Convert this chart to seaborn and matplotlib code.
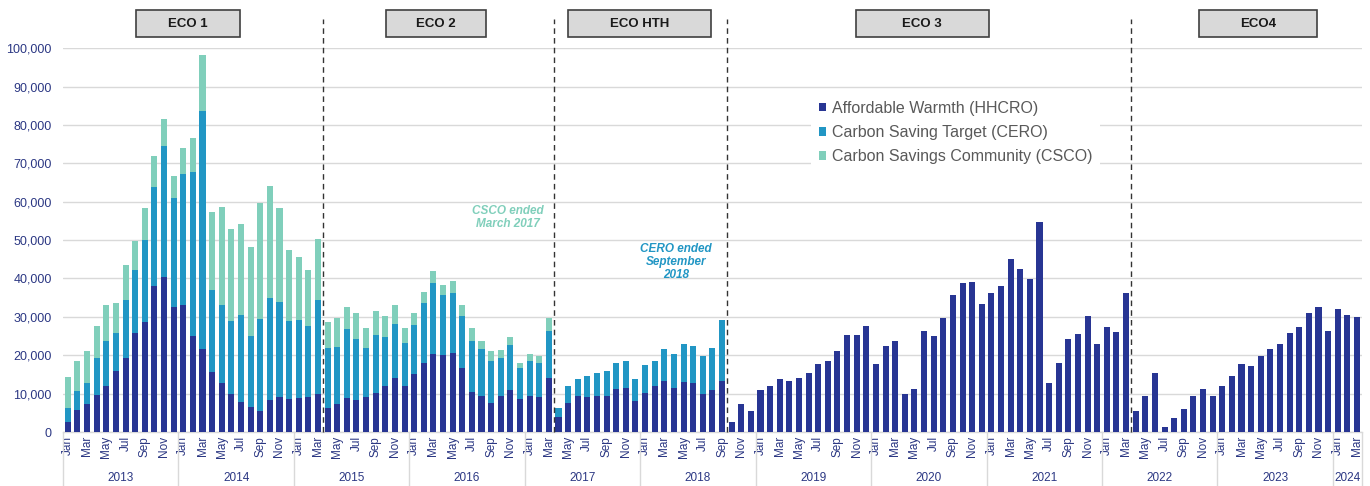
import numpy as np
import pandas as pd
import matplotlib
matplotlib.use("Agg")
import matplotlib.pyplot as plt
from matplotlib.patches import Patch, Rectangle
import seaborn as sns

# ---------------- data (values in thousands of measures) ----------------
years = ["2013", "2014", "2015", "2016", "2017", "2018", "2019", "2020",
         "2021", "2022", "2023", "2024"]
month_names = ["Jan", "Feb", "Mar", "Apr", "May", "Jun",
               "Jul", "Aug", "Sep", "Oct", "Nov", "Dec"]

# Affordable Warmth (HHCRO), Jan 2013 .. Mar 2024
hhcro_k = [
    2.5, 5.8, 7.4, 9.7, 12.0, 15.9, 19.2, 25.7, 28.6, 38.0, 40.3, 32.5,      # 2013
    33.0, 25.0, 21.7, 15.7, 12.8, 9.9, 7.8, 6.5, 5.6, 8.3, 9.1, 8.6,         # 2014
    8.8, 9.1, 10.0, 6.3, 7.3, 8.9, 8.3, 9.1, 10.2, 11.9, 14.0, 11.9,        # 2015
    15.0, 17.9, 20.3, 20.0, 20.5, 16.6, 10.4, 9.4, 7.5, 9.4, 10.9, 8.6,     # 2016
    9.5, 9.2, 14.0, 3.8, 7.5, 9.5, 9.2, 9.5, 9.5, 11.1, 11.6, 8.2,          # 2017
    10.3, 11.9, 13.2, 11.6, 13.0, 12.7, 10.0, 10.9, 13.2, 2.5, 7.2, 5.4,    # 2018
    10.9, 12.1, 13.7, 13.2, 14.1, 15.5, 17.8, 18.4, 21.0, 25.4, 25.4, 27.6, # 2019
    17.6, 22.5, 23.7, 10.0, 11.1, 26.3, 25.1, 29.7, 35.7, 38.8, 39.2, 33.3, # 2020
    36.2, 38.0, 45.2, 42.4, 39.8, 54.6, 12.7, 18.1, 24.2, 25.6, 30.2, 23.0, # 2021
    27.4, 26.1, 36.2, 5.4, 9.5, 15.5, 1.2, 3.6, 6.0, 9.3, 11.3, 9.5,        # 2022
    11.9, 14.5, 17.6, 17.3, 19.9, 21.7, 23.0, 25.8, 27.4, 31.0, 32.6, 26.3, # 2023
    32.0, 30.5, 30.0,                                                        # 2024
]

# Carbon Saving Target (CERO)
cero_k = [
    3.8, 4.9, 5.4, 9.6, 11.7, 9.8, 15.1, 16.5, 21.3, 25.7, 34.2, 28.5,
    34.2, 42.7, 61.8, 21.4, 20.2, 19.0, 22.8, 18.6, 23.8, 26.5, 24.7, 20.3,
    20.3, 18.5, 24.3, 15.5, 14.8, 17.9, 15.9, 12.7, 15.0, 12.8, 14.1, 11.2,
    12.8, 15.8, 18.4, 15.6, 15.6, 13.5, 13.2, 12.2, 10.9, 9.8, 11.7, 8.2,
    8.9, 8.7, 12.3, 2.4, 4.4, 4.4, 5.4, 5.9, 6.3, 7.0, 6.8, 5.7,
    7.2, 6.5, 8.4, 8.7, 9.9, 9.6, 9.7, 10.9, 16.0, 0, 0, 0,
] + [0] * 63

# Carbon Savings Community (CSCO)
csco_k = [
    8.0, 7.7, 8.2, 8.3, 9.3, 8.0, 9.1, 7.5, 8.4, 8.2, 7.1, 5.8,
    6.7, 8.8, 14.6, 20.2, 25.6, 24.1, 23.6, 23.2, 30.3, 29.3, 24.5, 18.6,
    16.4, 14.7, 16.1, 6.9, 7.5, 5.9, 6.7, 5.2, 6.2, 5.4, 4.9, 3.9,
    3.1, 2.9, 3.3, 2.7, 3.3, 3.1, 3.4, 2.2, 2.6, 2.1, 2.2, 1.3,
    1.8, 1.8, 3.4,
] + [0] * 84

series_names = ["Affordable Warmth (HHCRO)", "Carbon Saving Target (CERO)",
                "Carbon Savings Community (CSCO)"]
series_colors = ["#283593", "#2196C4", "#80CFBB"]

phases = ["ECO 1", "ECO 2", "ECO HTH", "ECO 3", "ECO4"]
phase_box_x = [(7.1, 17.9), (33.1, 43.5), (52.0, 66.9), (81.9, 95.7), (117.6, 129.8)]
phase_breaks = [26.5, 50.5, 68.5, 110.5]

# ---------------- frame ----------------
n = len(hhcro_k)
periods = []
month_lab = []
for i in range(n):
    y = years[i // 12]
    periods.append(f"{y}-{i % 12 + 1:02d}")
    month_lab.append(month_names[i % 12])

hh = np.array(hhcro_k) * 1000
ce = np.array(cero_k) * 1000
cs = np.array(csco_k) * 1000
df = pd.DataFrame({"period": periods,
                   "hh": hh,
                   "hh_ce": hh + ce,
                   "total": hh + ce + cs})

sns.set_style("white")
plt.rcParams["font.family"] = ["Liberation Sans", "DejaVu Sans"]

fig = plt.figure(figsize=(13.7, 4.86), dpi=100)
ax = fig.add_axes([0.046, 0.111, 0.948, 0.790])

bw = 0.63
sns.barplot(data=df, x="period", y="total", order=periods, color=series_colors[2],
            saturation=1, width=bw, ax=ax, edgecolor="none", linewidth=0, zorder=2)
sns.barplot(data=df, x="period", y="hh_ce", order=periods, color=series_colors[1],
            saturation=1, width=bw, ax=ax, edgecolor="none", linewidth=0, zorder=3)
sns.barplot(data=df, x="period", y="hh", order=periods, color=series_colors[0],
            saturation=1, width=bw, ax=ax, edgecolor="none", linewidth=0, zorder=4)

ax.set_xlim(-0.5, n - 0.5)
ax.set_ylim(0, 100000)
ax.set_xlabel("")
ax.set_ylabel("")

navy = "#2B3783"
ax.set_yticks(np.arange(0, 100001, 10000))
ax.set_yticklabels([f"{int(v):,}" for v in np.arange(0, 100001, 10000)],
                   color=navy, fontsize=9)
ax.yaxis.grid(True, color="#D9D9D9", lw=1, zorder=0)
ax.set_axisbelow(True)
ax.tick_params(axis="y", length=0, pad=8)

ticks = list(range(0, n, 2))
ax.set_xticks(ticks)
ax.set_xticklabels([month_lab[i] for i in ticks], rotation=90, fontsize=8.5, color=navy)
ax.tick_params(axis="x", length=0, pad=3)

for s in ["top", "right", "left"]:
    ax.spines[s].set_visible(False)
ax.spines["bottom"].set_color("#D9D9D9")
ax.spines["bottom"].set_linewidth(1)

xt = ax.get_xaxis_transform()
# year labels & separators
for k, y in enumerate(years):
    start = k * 12
    end = min(start + 12, n)
    ax.text((start + end - 1) / 2, -0.12, y, transform=xt, ha="center", va="center",
            fontsize=8.5, color=navy)
    ax.plot([start - 0.5] * 2, [0, -0.145], transform=xt, clip_on=False,
            color="#D9D9D9", lw=1)
ax.plot([n - 0.5] * 2, [0, -0.145], transform=xt, clip_on=False, color="#D9D9D9", lw=1)

# phase separators
for b in phase_breaks:
    ax.plot([b, b], [0, 1.075], transform=xt, clip_on=False, color="#333333",
            lw=1, ls=(0, (4, 3)), zorder=5)

# phase boxes
for name, (x0, x1) in zip(phases, phase_box_x):
    ax.add_patch(Rectangle((x0, 1.029), x1 - x0, 0.070, transform=xt, clip_on=False,
                           facecolor="#D9D9D9", edgecolor="#404040", lw=1.2))
    ax.text((x0 + x1) / 2, 1.064, name, transform=xt, ha="center", va="center",
            fontsize=9.5, fontweight="bold", color="#1A1A1A")

# annotations
ax.text(45.7, 55900, "CSCO ended\nMarch 2017", ha="center", va="center",
        fontsize=8.5, fontweight="bold", fontstyle="italic", color=series_colors[2],
        linespacing=1.1)
ax.text(63.2, 44300, "CERO ended\nSeptember\n2018", ha="center", va="center",
        fontsize=8.5, fontweight="bold", fontstyle="italic", color=series_colors[1],
        linespacing=1.15)

# legend
handles = [Patch(facecolor=c, edgecolor="none") for c in series_colors]
leg = ax.legend(handles, series_names, loc="upper left",
                bbox_to_anchor=(0.592, 0.809), bbox_transform=fig.transFigure,
                frameon=True, facecolor="white", edgecolor="none", framealpha=1,
                fontsize=11.5, handlelength=0.45, handleheight=0.45,
                handletextpad=0.35, labelspacing=0.58, borderpad=0.5,
                borderaxespad=0)
leg.get_frame().set_linewidth(0)
for t in leg.get_texts():
    t.set_color("#595959")

fig.savefig("out.png", dpi=100)
